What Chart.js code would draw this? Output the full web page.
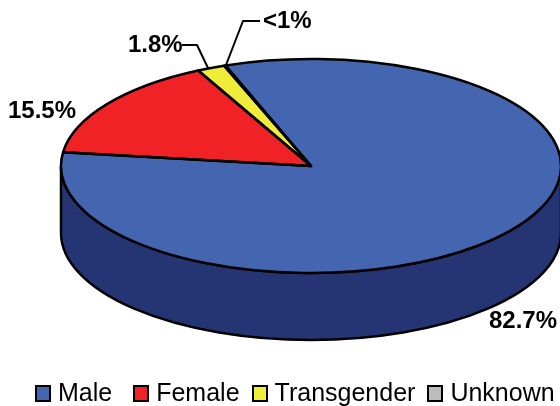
<!DOCTYPE html>
<html>
<head>
<meta charset="utf-8">
<script src="https://cdn.jsdelivr.net/npm/chart.js@4"></script>
<style>
  html, body { margin: 0; padding: 0; background: #fff; overflow: hidden; }
  #wrap { position: relative; width: 560px; height: 406px; }
  #legend { position: absolute; left: 35px; top: 378px; display: flex; align-items: center; font: 25px "Liberation Sans", Arial, sans-serif; color: #000; white-space: nowrap; line-height: 28px; }
  #legend span.box { display: inline-block; width: 12px; height: 13px; border: 2.5px solid #000; margin-right: 7px; position: relative; top: 1px; }
  #legend div { display: flex; align-items: center; margin-right: 12px; }
  #legend div:nth-child(1) { margin-right: 21px; }
</style>
</head>
<body>
<div id="wrap">
  <canvas id="chart0" width="560" height="406"></canvas>
  <div id="legend"></div>
</div>
<script>
var categories = ["Male", "Female", "Transgender", "Unknown"];
var shares = [82.7, 15.5, 1.8, 0.1];
var sliceColors = ["#4466B0", "#F02225", "#F0EC3A", "#BDBDBD"];
var sideColor = "#253574";
var tilt = 0.428;
var depth = 67;
var penWidth = 2.5;

// squash the pie into an ellipse and put the rim under it
var tiltPlugin = {
  id: "tilt",
  beforeDatasetsDraw: function(chart) {
    var ctx = chart.ctx;
    var first = chart.getDatasetMeta(0).data[0];
    var cx = first.x, cy = first.y, r = first.outerRadius;

    ctx.save();
    ctx.beginPath();
    ctx.ellipse(cx, cy, r, r * tilt, 0, Math.PI, 0, true);
    ctx.lineTo(cx + r, cy + depth);
    ctx.ellipse(cx, cy + depth, r, r * tilt, 0, 0, Math.PI, false);
    ctx.closePath();
    ctx.fillStyle = sideColor;
    ctx.fill();
    ctx.lineWidth = penWidth;
    ctx.strokeStyle = "#000";
    ctx.stroke();
    ctx.restore();

    ctx.save();
    ctx.translate(cx, cy);
    ctx.scale(1, tilt);
    ctx.translate(-cx, -cy);
  },
  afterDatasetsDraw: function(chart) {
    var ctx = chart.ctx;
    ctx.restore();

    // outlines, stroked outside the squash so the pen stays even
    ctx.save();
    ctx.lineWidth = penWidth;
    ctx.strokeStyle = "#000";
    ctx.lineJoin = "round";
    chart.getDatasetMeta(0).data.forEach(function(arc) {
      ctx.beginPath();
      ctx.moveTo(arc.x, arc.y);
      ctx.ellipse(arc.x, arc.y, arc.outerRadius, arc.outerRadius * tilt, 0, arc.startAngle, arc.endAngle, false);
      ctx.closePath();
      ctx.stroke();
    });

    // leader lines
    ctx.lineWidth = 2;
    ctx.beginPath();
    ctx.moveTo(182, 45);
    ctx.lineTo(197, 45);
    ctx.lineTo(208, 68);
    ctx.moveTo(260, 21);
    ctx.lineTo(243, 21);
    ctx.lineTo(226, 65);
    ctx.stroke();

    ctx.fillStyle = "#000";
    ctx.font = "bold 24px 'Liberation Sans', Arial, sans-serif";
    ctx.textBaseline = "alphabetic";
    ctx.fillText("82.7%", 489, 328);
    ctx.fillText("15.5%", 8, 118);
    ctx.fillText("1.8%", 128, 52);
    ctx.fillText("<1%", 263, 28);
    ctx.restore();
  }
};

var chart0 = new Chart(document.getElementById("chart0").getContext("2d"), {
  type: "pie",
  data: {
    labels: categories,
    datasets: [{
      data: shares,
      backgroundColor: sliceColors,
      borderWidth: 0,
      radius: 250,
      clip: false
    }]
  },
  options: {
    responsive: false,
    animation: false,
    rotation: -20,
    layout: { padding: { left: 62, bottom: 74 } },
    plugins: { legend: { display: false }, tooltip: { enabled: false } }
  },
  plugins: [tiltPlugin]
});

var legendBox = document.getElementById("legend");
categories.forEach(function(name, i) {
  var item = document.createElement("div");
  var box = document.createElement("span");
  box.className = "box";
  box.style.background = sliceColors[i];
  item.appendChild(box);
  item.appendChild(document.createTextNode(name));
  legendBox.appendChild(item);
});
</script>
</body>
</html>
